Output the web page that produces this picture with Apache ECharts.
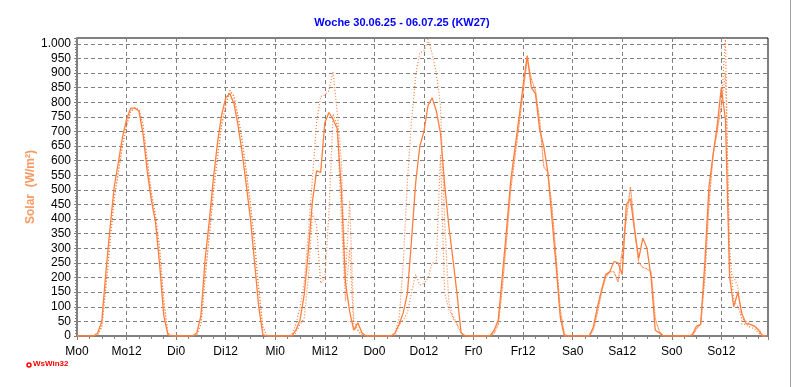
<!DOCTYPE html>
<html>
<head>
<meta charset="utf-8">
<script src="https://cdn.jsdelivr.net/npm/echarts@6/dist/echarts.min.js"></script>
<style>html,body{margin:0;padding:0;background:#fff;}#c{width:792px;height:387px;}</style>
</head>
<body>
<div id="c"></div>
<script>
// Day labels for the x axis (one tick every 12 hours)
const dayNames = ['Mo', 'Di', 'Mi', 'Do', 'Fr', 'Sa', 'So'];
const yTicks = [0, 50, 100, 150, 200, 250, 300, 350, 400, 450, 500, 550, 600, 650, 700, 750, 800, 850, 900, 950, 1000];

// Solar (W/m²), hourly values, hour 0..23 for each day
const solarMo = [0,0,0,0,0,10,50,220,370,510,593,680,741,780,780,770,690,565,465,390,245,70,5,0];
const solarDi = [0,0,0,0,0,10,70,260,390,536,659,755,815,830,795,720,625,515,400,250,100,5,0,0];
const solarMi = [0,0,0,0,0,20,55,140,290,460,565,560,730,765,741,710,500,180,85,20,45,10,0,0];
const solarDo = [0,0,0,0,0,10,40,80,147,330,525,650,700,790,815,770,695,520,380,265,145,10,0,0];
const solarFr = [0,0,0,0,0,20,55,210,364,530,640,745,856,960,850,830,707,650,560,400,240,65,0,0];
const solarSa = [0,0,0,0,0,30,100,158,210,220,255,250,210,450,470,360,265,335,300,200,20,10,0,0];
const solarSo = [0,0,0,0,0,5,34,40,250,510,620,720,850,740,204,100,150,75,42,40,34,20,0,0];

// Comparison series 1 (dotted)
const cmp1Mo = [0,0,0,0,0,5,30,170,320,470,560,650,720,770,780,775,720,600,490,410,300,120,10,0];
const cmp1Di = [0,0,0,0,0,5,40,200,340,490,610,720,790,840,820,750,670,560,450,320,160,30,0,0];
const cmp1Mi = [0,0,0,0,5,40,100,180,350,540,730,820,825,840,905,765,600,200,460,60,20,5,0,0];
const cmp1Do = [0,0,0,0,0,10,60,250,530,740,890,970,975,1015,965,900,790,400,120,60,40,10,0,0];
const cmp1Fr = [0,0,0,0,0,10,40,170,330,500,610,720,830,950,880,840,740,580,560,440,270,90,5,0];
const cmp1Sa = [0,0,0,0,0,20,80,150,200,220,220,185,290,400,510,370,250,235,230,220,60,15,0,0];
const cmp1So = [0,0,0,0,0,0,25,40,200,450,620,700,790,1020,220,200,170,40,40,30,25,10,0,0];

// Comparison series 2 (dotted)
const cmp2Mo = [0,0,0,0,0,5,30,170,320,470,560,650,720,770,780,775,720,600,490,410,300,120,10,0];
const cmp2Di = [0,0,0,0,0,5,40,200,340,490,610,720,790,840,820,750,670,560,450,320,160,30,0,0];
const cmp2Mi = [0,0,0,0,0,10,40,60,200,420,380,180,200,420,760,720,400,120,300,30,20,0,0,0];
const cmp2Do = [0,0,0,0,0,0,40,55,80,150,210,175,180,200,250,250,620,150,90,70,40,10,0,0];
const cmp2Fr = [0,0,0,0,0,10,40,170,330,500,610,720,830,950,880,840,740,580,560,440,270,90,5,0];
const cmp2Sa = [0,0,0,0,0,20,80,150,200,220,220,185,290,400,510,370,250,235,230,220,60,15,0,0];
const cmp2So = [0,0,0,0,0,0,25,40,200,450,620,700,790,900,300,120,100,60,50,40,35,25,0,0];

function toPairs(days) {
  const out = [];
  days.forEach(function (arr, d) {
    arr.forEach(function (v, h) { out.push([d * 24 + h, v]); });
  });
  return out;
}
const solarData = toPairs([solarMo, solarDi, solarMi, solarDo, solarFr, solarSa, solarSo]);
const cmp1Data = toPairs([cmp1Mo, cmp1Di, cmp1Mi, cmp1Do, cmp1Fr, cmp1Sa, cmp1So]);
const cmp2Data = toPairs([cmp2Mo, cmp2Di, cmp2Mi, cmp2Do, cmp2Fr, cmp2Sa, cmp2So]);

const orange = '#FF7F3F';
const chart = echarts.init(document.getElementById('c'), null, {renderer: 'canvas'});
chart.setOption({
  animation: false,
  backgroundColor: '#ffffff',
  title: {
    text: 'Woche 30.06.25 - 06.07.25 (KW27)',
    left: 397, top: 12, textAlign: 'center',
    textStyle: {color: '#0000FF', fontSize: 11, fontWeight: 'bold', fontFamily: 'Liberation Sans, Arial, sans-serif'}
  },
  grid: {left: 77, right: 24, top: 38, bottom: 51, show: true, borderColor: '#000', borderWidth: 1, backgroundColor: '#fff'},
  xAxis: {
    type: 'value', min: 0, max: 167.3, interval: 12,
    axisLine: {show: true, lineStyle: {color: '#808080', width: 2}},
    axisTick: {show: true, length: 4, lineStyle: {color: '#808080'}},
    minorTick: {show: true, splitNumber: 4, length: 3, lineStyle: {color: '#808080'}},
    axisLabel: {
      color: '#000', fontSize: 12, margin: 10, fontFamily: 'Liberation Sans, Arial, sans-serif',
      formatter: function (v) {
        if (Math.abs(v % 12) > 1e-6) return '';
        const d = Math.floor(v / 24);
        if (d > 6) return '';
        return dayNames[d] + (v % 24);
      }
    },
    splitLine: {show: true, lineStyle: {color: '#808080', type: [4, 3], width: 1}}
  },
  yAxis: {
    type: 'value', min: 0, max: 1020, interval: 50,
    name: 'Solar  (W/m²)', nameLocation: 'middle', nameGap: 40, nameRotate: 90,
    nameMoveOverlap: false,
    nameTextStyle: {color: '#F79A63', fontSize: 12, fontWeight: 'bold', fontFamily: 'Liberation Sans, Arial, sans-serif'},
    axisLine: {show: true, lineStyle: {color: '#808080', width: 2}},
    axisTick: {show: true, length: 3, lineStyle: {color: '#808080'}},
    minorTick: {show: true, splitNumber: 5, length: 2, lineStyle: {color: '#808080'}},
    axisLabel: {
      color: '#000', fontSize: 12, margin: 6, fontFamily: 'Liberation Sans, Arial, sans-serif',
      formatter: function (v) {
        if (yTicks.indexOf(v) < 0) return '';
        return v >= 1000 ? Math.floor(v / 1000) + '.' + String(v % 1000).padStart(3, '0') : String(v);
      }
    },
    splitLine: {show: true, lineStyle: {color: '#808080', type: [4, 3], width: 1}}
  },
  series: [
    {name: 'Vergleich 2', type: 'line', data: cmp2Data, showSymbol: false, clip: true,
     lineStyle: {color: orange, width: 1.2, type: [1, 2]}, itemStyle: {color: orange}},
    {name: 'Vergleich 1', type: 'line', data: cmp1Data, showSymbol: false, clip: true,
     lineStyle: {color: orange, width: 1.2, type: [1, 2]}, itemStyle: {color: orange}},
    {name: 'Solar', type: 'line', data: solarData, showSymbol: false, clip: true,
     lineStyle: {color: orange, width: 1.3}, itemStyle: {color: orange}}
  ],
  graphic: [
    {type: 'circle', shape: {cx: 29, cy: 365, r: 2}, style: {fill: '#fff', stroke: '#FF0000', lineWidth: 1.5}},
    {type: 'text', left: 33, top: 360, style: {text: 'WsWin32', fill: '#FF0000', font: 'bold 8px Liberation Sans, Arial, sans-serif'}},
    {type: 'line', shape: {x1: 790.5, y1: 0, x2: 790.5, y2: 387}, style: {stroke: '#a0a0a0', lineWidth: 1}}
  ]
});
</script>
</body>
</html>
